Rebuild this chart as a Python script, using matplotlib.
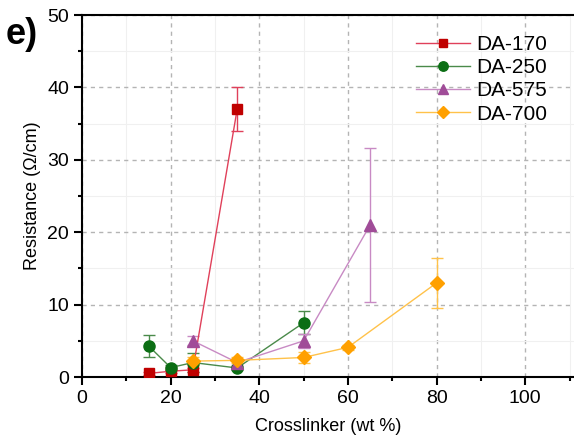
import matplotlib
matplotlib.use('Agg')
import matplotlib.pyplot as plt
from matplotlib.ticker import MultipleLocator

plt.rcParams['font.family'] = ['Liberation Sans', 'DejaVu Sans']

# DA-170
x170 = [15, 20, 25, 35]
y170 = [0.5, 0.8, 1.0, 37.0]
e170 = [0.2, 0.2, 0.3, 3.0]
# DA-250
x250 = [15, 20, 25, 35, 50]
y250 = [4.3, 1.3, 2.0, 1.25, 7.5]
e250 = [1.5, 0.3, 1.3, 0.3, 1.6]
# DA-575
x575 = [25, 35, 50, 65]
y575 = [5.0, 2.0, 5.0, 21.0]
e575 = [0.6, 0.3, 1.0, 10.7]
# DA-700
x700 = [25, 35, 50, 60, 80]
y700 = [2.2, 2.3, 2.7, 4.1, 13.0]
e700 = [0.5, 0.4, 0.7, 0.3, 3.5]

series = [
    ('DA-170', x170, y170, e170, 's', '#c00000', '#e0405a', 7),
    ('DA-250', x250, y250, e250, 'o', '#0b6e14', '#4a8a4a', 8),
    ('DA-575', x575, y575, e575, '^', '#a04c98', '#c88ac4', 9),
    ('DA-700', x700, y700, e700, 'D', '#ffa000', '#ffc24a', 7),
]

fig = plt.figure(figsize=(5.74, 4.42), dpi=100)
ax = fig.add_axes([0.143, 0.147, 0.857, 0.819])

for name, xs, ys, es, mk, mc, lc, ms in series:
    ax.errorbar(xs, ys, yerr=es, fmt='none', ecolor=lc, elinewidth=1,
                capsize=4, zorder=2)
    ax.plot(xs, ys, color=lc, linewidth=1, marker=mk, markersize=ms,
            markerfacecolor=mc, markeredgecolor=mc, label=name, zorder=3)

ax.set_xlim(0, 111)
ax.set_ylim(0, 50)
ax.xaxis.set_major_locator(MultipleLocator(20))
ax.xaxis.set_minor_locator(MultipleLocator(10))
ax.yaxis.set_major_locator(MultipleLocator(10))
ax.yaxis.set_minor_locator(MultipleLocator(5))
ax.grid(which='major', linestyle=(0, (3, 3)), color='#b4b4b4', linewidth=1)
ax.grid(which='minor', linestyle='-', color='#f0f0f0', linewidth=0.8)
ax.set_axisbelow(True)

ax.tick_params(which='major', direction='out', length=6, width=1.5, labelsize=14)
ax.tick_params(which='minor', direction='out', length=3, width=1.5)
for s in ['left', 'bottom', 'top']:
    ax.spines[s].set_linewidth(1.5)
ax.spines['right'].set_visible(False)

ax.set_xlabel('Crosslinker (wt %)', fontsize=13, labelpad=8)
ax.set_ylabel('Resistance (\u03a9/cm)', fontsize=13)

ax.legend(loc='upper right', frameon=False, fontsize=15, handlelength=2.6,
          handletextpad=0.3, labelspacing=0.2, borderaxespad=0.3,
          markerscale=0.85, bbox_to_anchor=(0.975, 0.985))

fig.text(0.01, 0.9, 'e)', fontsize=26, fontweight='bold')

fig.savefig('out.png', dpi=100)
